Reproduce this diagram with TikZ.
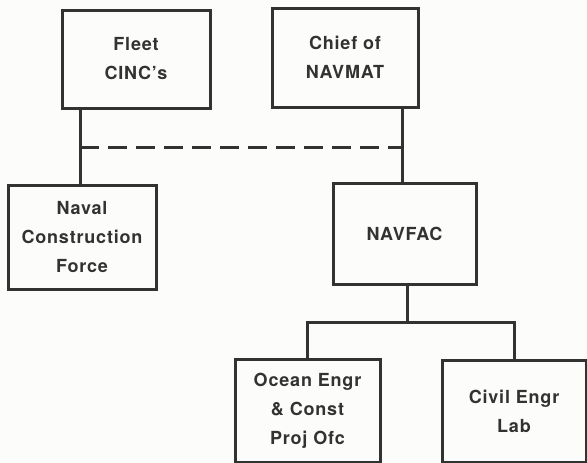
\documentclass[tikz,border=0pt]{standalone}
\usepackage{fontspec}
\setmainfont[LetterSpace=4.5]{TeX Gyre Heros}
\definecolor{ink}{RGB}{50,50,50}
\definecolor{paper}{RGB}{252,252,250}
\begin{document}
\begin{tikzpicture}[x=1pt,y=-1pt,
  orgbox/.style={draw=ink,line width=3pt,rectangle,align=center,text=ink,
    font=\fontsize{18}{29}\selectfont\bfseries,inner sep=0pt},
  link/.style={draw=ink,line width=3pt},
  dotlink/.style={draw=ink,line width=3pt,dash pattern=on 19pt off 9pt}]
\fill[paper] (0,0) rectangle (587,463);
\useasboundingbox (0,0) rectangle (587,463);
\node[orgbox,minimum width=148pt,minimum height=98pt] (fleet) at (136,59) {Fleet\\CINC's};
\node[orgbox,minimum width=146pt,minimum height=99pt] (chief) at (345,57.5) {Chief of\\NAVMAT};
\node[orgbox,minimum width=148pt,minimum height=104pt] (naval) at (82,237) {Naval\\Construction\\Force};
\node[orgbox,minimum width=143pt,minimum height=101pt] (navfac) at (404.5,233.5) {NAVFAC};
\node[orgbox,minimum width=145pt,minimum height=103pt] (ocean) at (307.5,410.5) {Ocean Engr\\\& Const\\Proj Ofc};
\node[orgbox,minimum width=144pt,minimum height=102pt] (civil) at (514,411) {Civil Engr\\Lab};
\coordinate (dl) at (80,147);
\coordinate (dr) at (402,147);
\coordinate (bus) at (407,322);
\draw[link] (naval.north -| dl) -- (dl |- fleet.south);
\draw[link] (navfac.north -| dr) -- (dr |- chief.south);
\draw[dotlink] (dl) -- (dr);
\draw[link] (navfac.south -| bus) -- (bus);
\draw[link] (ocean.north) |- (bus) -| (civil.north);
\end{tikzpicture}
\end{document}
